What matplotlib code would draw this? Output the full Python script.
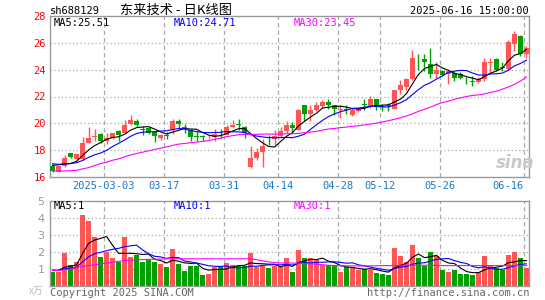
import matplotlib
matplotlib.use("Agg")
import matplotlib.pyplot as plt
import numpy as np

# sh688129 daily candles, 2025-02-18 .. 2025-06-16
opens = [16.85, 16.4, 16.8, 17.78, 17.35, 17.35, 18.55, 18.95, 19.2, 18.7,
         18.9, 19.45, 19.3, 19.97, 20.2, 19.55, 19.65, 19.32, 18.9, 19.1,
         19.5, 20.2, 19.72, 19.5, 19.02, 19.0, 18.95, 19.0, 19.3, 19.15,
         19.72, 19.92, 19.72, 16.72, 17.4, 17.9, 18.55, 18.8, 19.07, 19.4,
         19.9, 19.53, 21.33, 20.73, 20.98, 21.28, 21.58, 21.33, 21.0, 21.05,
         20.6, 20.9, 21.42, 21.23, 21.78, 21.28, 21.32, 21.08, 22.5, 22.73,
         23.32, 24.82, 24.78, 24.4, 23.7, 23.9, 23.7, 23.78, 23.65, 23.18,
         23.12, 23.07, 23.28, 24.52, 24.78, 24.2, 24.08, 25.95, 26.53, 25.15]
highs = [16.9, 16.85, 17.65, 17.8, 17.75, 19.0, 19.75, 19.55, 19.25, 19.3,
         19.3, 19.5, 20.27, 20.6, 20.35, 19.8, 19.7, 19.35, 19.2, 19.35,
         20.3, 20.35, 19.95, 19.6, 19.4, 19.15, 19.1, 19.6, 19.6, 19.9,
         20.25, 20.3, 19.8, 18.3, 18.15, 18.8, 19.15, 19.5, 19.75, 20.15,
         20.1, 21.1, 21.4, 21.33, 21.58, 21.73, 21.78, 21.4, 21.4, 21.4,
         21.15, 21.25, 21.78, 22.03, 21.8, 21.45, 21.5, 22.45, 23.2, 23.4,
         25.5, 25.2, 25.18, 25.65, 24.55, 24.0, 23.9, 23.9, 23.8, 23.45,
         23.55, 23.45, 24.9, 24.9, 24.9, 24.6, 26.2, 26.88, 26.6, 25.75]
lows = [16.4, 16.35, 16.75, 17.45, 17.3, 17.3, 18.5, 18.65, 18.55, 18.45,
        18.85, 18.7, 19.25, 19.9, 19.75, 19.1, 19.2, 18.6, 18.75, 18.85,
        19.2, 19.6, 19.3, 18.7, 18.65, 18.65, 18.8, 18.65, 18.9, 19.1,
        19.65, 19.5, 18.9, 16.65, 17.3, 16.75, 18.4, 18.4, 19.0, 19.3,
        19.3, 19.5, 20.15, 20.15, 20.9, 21.15, 21.05, 20.65, 20.4, 20.7,
        20.55, 20.85, 21.03, 21.15, 21.0, 20.9, 20.9, 21.05, 22.2, 22.5,
        23.25, 24.0, 23.9, 23.4, 23.4, 23.5, 22.9, 23.15, 23.3, 22.9,
        22.75, 23.0, 23.15, 23.7, 23.9, 23.9, 24.0, 25.4, 25.0, 24.9]
closes = [16.45, 16.8, 17.4, 17.5, 17.7, 18.57, 18.87, 19.02, 18.65, 18.9,
          19.28, 19.15, 19.9, 20.22, 19.85, 19.5, 19.3, 19.02, 19.15, 19.05,
          20.2, 19.95, 19.68, 19.0, 18.98, 18.97, 19.0, 19.22, 19.25, 19.75,
          19.9, 19.88, 19.28, 17.4, 17.9, 18.3, 18.5, 19.07, 19.4, 19.9,
          19.65, 21.03, 20.73, 21.03, 21.33, 21.58, 21.33, 21.08, 21.05, 21.0,
          21.03, 21.15, 21.38, 21.78, 21.23, 21.23, 21.28, 22.45, 22.83, 23.28,
          24.9, 24.78, 24.6, 23.7, 23.95, 23.6, 23.9, 23.4, 23.35, 23.13,
          23.08, 23.28, 24.6, 24.57, 24.0, 24.15, 26.03, 26.65, 25.15, 25.58]
# closes before the window, only needed to start the MA5 / MA10 lines
prior_closes = [17.2, 17.1, 17.3, 17.0, 16.9, 16.6, 17.1, 17.3, 16.9]
ma30 = [16.45, 16.45, 16.45, 16.47, 16.5, 16.6, 16.7, 16.85, 17.0, 17.1,
        17.25, 17.35, 17.5, 17.65, 17.75, 17.85, 17.95, 18.05, 18.15, 18.25,
        18.35, 18.45, 18.5, 18.55, 18.6, 18.65, 18.72, 18.8, 18.9, 19.0,
        19.08, 19.15, 19.18, 19.18, 19.18, 19.2, 19.2, 19.2, 19.2, 19.22,
        19.22, 19.25, 19.3, 19.35, 19.4, 19.5, 19.58, 19.62, 19.68, 19.72,
        19.78, 19.82, 19.88, 19.95, 20.02, 20.1, 20.2, 20.3, 20.42, 20.55,
        20.7, 20.9, 21.05, 21.2, 21.4, 21.55, 21.65, 21.8, 21.9, 22.0,
        22.08, 22.12, 22.2, 22.3, 22.4, 22.55, 22.72, 22.9, 23.15, 23.45]

volume = [0.85, 0.85, 1.92, 1.21, 1.39, 4.18, 3.82, 2.91, 1.68, 1.98,
          1.62, 1.43, 2.91, 1.68, 1.85, 1.40, 1.55, 1.40, 1.30, 1.10,
          2.20, 1.30, 0.90, 1.15, 1.20, 0.67, 0.73, 1.09, 1.19, 1.33,
          1.25, 1.15, 1.15, 1.92, 1.13, 1.19, 1.03, 1.15, 1.15, 1.62,
          0.83, 2.14, 1.62, 1.66, 1.52, 1.25, 1.25, 1.19, 0.83, 1.09,
          1.09, 0.94, 1.00, 0.97, 0.79, 0.69, 0.63, 2.22, 1.74, 1.39,
          2.44, 1.62, 1.15, 2.02, 1.78, 0.97, 0.85, 0.97, 0.73, 0.73,
          0.65, 0.85, 1.78, 1.23, 1.03, 0.97, 1.84, 2.02, 1.62, 1.03]
prior_volume = [0.9, 1.0, 0.8, 0.9, 1.0, 0.9, 1.0, 0.9, 1.0]
vol_ma30 = [0.9, 0.92, 0.95, 1.0, 1.08, 1.15, 1.2, 1.25, 1.3, 1.35,
            1.4, 1.45, 1.5, 1.52, 1.55, 1.55, 1.57, 1.58, 1.58, 1.6,
            1.6, 1.6, 1.6, 1.6, 1.6, 1.6, 1.6, 1.6, 1.6, 1.6,
            1.6, 1.6, 1.6, 1.6, 1.55, 1.48, 1.42, 1.38, 1.36, 1.35,
            1.35, 1.34, 1.32, 1.3, 1.28, 1.25, 1.22, 1.2, 1.19, 1.19,
            1.18, 1.18, 1.18, 1.19, 1.19, 1.2, 1.2, 1.21, 1.22, 1.22,
            1.22, 1.22, 1.22, 1.22, 1.21, 1.2, 1.2, 1.2, 1.2, 1.2,
            1.2, 1.2, 1.2, 1.2, 1.2, 1.2, 1.2, 1.2, 1.2, 1.2]

date_idx = [9, 19, 29, 38, 48, 55, 65, 79]
date_labels = ["2025-03-03", "03-17", "03-31", "04-14", "04-28", "05-12", "05-26", "06-16"]

RED = "#ff5555"
GREEN = "#00a000"
GRID = "#aaaaaa"
MONO = "DejaVu Sans Mono"
W, H = 545.0, 300.0


def moving_avg(vals, prior, n):
    full = np.array(prior + vals, dtype=float)
    out = np.convolve(full, np.ones(n) / n, mode="valid")
    return out[-len(vals):]


def style_axes(a):
    for s in a.spines.values():
        s.set_color("#999999")
        s.set_linewidth(1)
    a.set_xlim(-0.42, 79.42)
    a.tick_params(length=0)
    for i in date_idx:
        a.axvline(i - 0.42, color=GRID, ls=(0, (3.5, 2.5)), lw=0.9, zorder=0)


fig = plt.figure(figsize=(W / 100, H / 100), dpi=100)
ax = fig.add_axes([50 / W, 1 - 177 / H, 479 / W, 161 / H])
axv = fig.add_axes([50 / W, 1 - 286 / H, 479 / W, 85 / H])

x = np.arange(len(closes))
o = np.array(opens)
c = np.array(closes)
up = c >= o
cols = [RED if u else GREEN for u in up]

# price panel
style_axes(ax)
ax.set_ylim(16, 28)
for yv in range(18, 28, 2):
    ax.axhline(yv, color=GRID, ls=(0, (1, 2)), lw=0.9, zorder=0)
ax.vlines(x, lows, highs, colors=cols, lw=1, zorder=2)
body = np.maximum(np.abs(c - o), 0.05)
ax.bar(x, body, bottom=np.minimum(o, c), width=0.8, color=cols, lw=0, zorder=3)
ax.plot(x, moving_avg(closes, prior_closes, 5), color="black", lw=0.8, zorder=4)
ax.plot(x, moving_avg(closes, prior_closes, 10), color="#0000ff", lw=0.8, zorder=4)
ax.plot(x, ma30, color="#ff00ff", lw=0.8, zorder=4)

ax.set_yticks(range(16, 29, 2))
ax.set_yticklabels([str(v) for v in range(16, 29, 2)], color="red", fontsize=7.5, family=MONO)
ax.tick_params(axis="y", pad=3)
ax.set_xticks([i - 0.42 for i in date_idx])
ax.set_xticklabels(date_labels, color="#1a78c8", fontsize=7.5, family=MONO)
ax.tick_params(axis="x", pad=3)
ax.get_xticklabels()[-1].set_ha("right")

# volume panel
style_axes(axv)
axv.set_ylim(0, 5)
for yv in range(1, 5):
    axv.axhline(yv, color=GRID, ls=(0, (1, 2)), lw=0.9, zorder=0)
axv.bar(x, volume, width=0.8, color=cols, lw=0, zorder=2)
axv.plot(x, moving_avg(volume, prior_volume, 5), color="black", lw=0.8, zorder=4)
axv.plot(x, moving_avg(volume, prior_volume, 10), color="#0000ff", lw=0.8, zorder=4)
axv.plot(x, vol_ma30, color="#ff00ff", lw=0.8, zorder=4)
axv.set_xticks([])
axv.set_yticks(range(1, 6))
axv.set_yticklabels([str(v) for v in range(1, 6)], color="#999999", fontsize=8)
axv.tick_params(axis="y", pad=4)

# texts
def ftext(px, py, s, **kw):
    fig.text(px / W, 1 - py / H, s, va="center", **kw)

ftext(50, 11, "sh688129", fontsize=7.5, family=MONO, color="black")
ftext(120, 10, "东来技术 - 日K线图", fontsize=9.5,
      family=["Noto Sans CJK SC", "DejaVu Sans"], color="black")
ftext(529, 11, "2025-06-16 15:00:00", fontsize=7.5, family=MONO, color="black", ha="right")
ftext(54, 23, "MA5:25.51", fontsize=7.5, family=MONO, color="black")
ftext(174, 23, "MA10:24.71", fontsize=7.5, family=MONO, color="#0000ff")
ftext(294, 23, "MA30:23.45", fontsize=7.5, family=MONO, color="#ff00ff")
ftext(54, 206, "MA5:1", fontsize=7.5, family=MONO, color="black")
ftext(174, 206, "MA10:1", fontsize=7.5, family=MONO, color="#0000ff")
ftext(294, 206, "MA30:1", fontsize=7.5, family=MONO, color="#ff00ff")
ftext(29, 291, "x万", fontsize=7, family=["Noto Sans CJK SC", "DejaVu Sans"],
      color="#bbbbbb", style="italic")
ftext(50, 293, "Copyright 2025 SINA.COM", fontsize=7.5, family=MONO, color="#666666")
ftext(529, 293, "http://finance.sina.com.cn", fontsize=7.5, family=MONO,
      color="#666666", ha="right")
ftext(496, 163, "sina", fontsize=12, color="#c8c8c8", style="italic", weight="bold")

fig.savefig("out.png", dpi=100)
